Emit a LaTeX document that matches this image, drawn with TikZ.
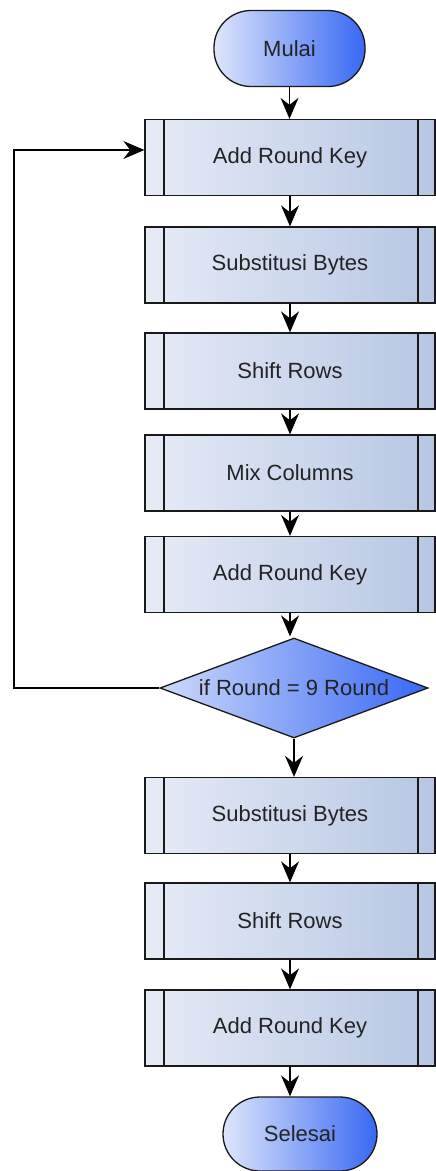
\documentclass[tikz,border=0pt]{standalone}
\usepackage{fontspec}
\setmainfont{Liberation Sans}
\usetikzlibrary{shapes.geometric,arrows.meta}
\definecolor{boxL}{RGB}{230,235,246}
\definecolor{boxR}{RGB}{182,199,227}
\definecolor{termL}{RGB}{222,230,251}
\definecolor{termR}{RGB}{56,104,244}
\definecolor{txt}{RGB}{35,35,35}
\begin{document}
\begin{tikzpicture}[x=1pt,y=-1pt,
  lw/.style={line width=1.3pt},
  proc/.style={draw=black!90, lw, left color=boxL, right color=boxR,
    minimum width=290pt, minimum height=76pt, inner sep=0pt,
    font=\fontsize{22}{26}\selectfont, text=txt,
    path picture={
      \draw[lw,black!90] ([xshift=19pt]path picture bounding box.north west) -- ([xshift=19pt]path picture bounding box.south west);
      \draw[lw,black!90] ([xshift=-17pt]path picture bounding box.north east) -- ([xshift=-17pt]path picture bounding box.south east);
    }},
  term/.style={draw=black!90, lw, left color=termL, right color=termR,
    rounded corners=37pt, minimum height=76pt, inner sep=0pt,
    font=\fontsize{22}{26}\selectfont, text=txt},
  decision/.style={draw=black!90, lw, diamond, aspect=2.7, left color=termL!90!termR, right color=termR,
    minimum width=268pt, minimum height=100pt, inner sep=0pt,
    font=\fontsize{22}{26}\selectfont, text=txt},
  conn/.style={draw=black, lw, -{Stealth[length=21pt,width=18pt,inset=7pt]}}
]
\useasboundingbox (0,0) rectangle (436,1171);
\node[term, minimum width=151pt] (mulai) at (289.5,48.5) {Mulai};
\node[proc] (b1) at (290,157.5) {Add Round Key};
\node[proc] (b2) at (290,265) {Substitusi Bytes};
\node[proc] (b3) at (290,371) {Shift Rows};
\node[proc] (b4) at (290,473) {Mix Columns};
\node[proc] (b5) at (290,574.5) {Add Round Key};
\node[decision] (d) at (294,688) {if Round = 9 Round};
\node[proc] (b6) at (290,815.5) {Substitusi Bytes};
\node[proc] (b7) at (290,921) {Shift Rows};
\node[proc] (b8) at (290,1028) {Add Round Key};
\node[term, minimum width=154pt, minimum height=74pt] (selesai) at (300,1134) {Selesai};
\coordinate (lb) at (14,688);
\coordinate (lt) at (14,150);
\path[conn] (mulai.south) -- (mulai.south |- b1.north);
\path[conn] (b1) -- (b2);
\path[conn] (b2) -- (b3);
\path[conn] (b3) -- (b4);
\path[conn] (b4) -- (b5);
\path[conn] (b5.south) -- ([yshift=1pt]b5.south |- d.north);
\path[conn] (d.south) -- (d.south |- b6.north);
\path[conn] (b6) -- (b7);
\path[conn] (b7) -- (b8);
\path[conn] (b8.south) -- (b8.south |- selesai.north);
\path[conn] (d.west) -- (lb) -- (lt) -- (lt -| b1.west);
\end{tikzpicture}
\end{document}
